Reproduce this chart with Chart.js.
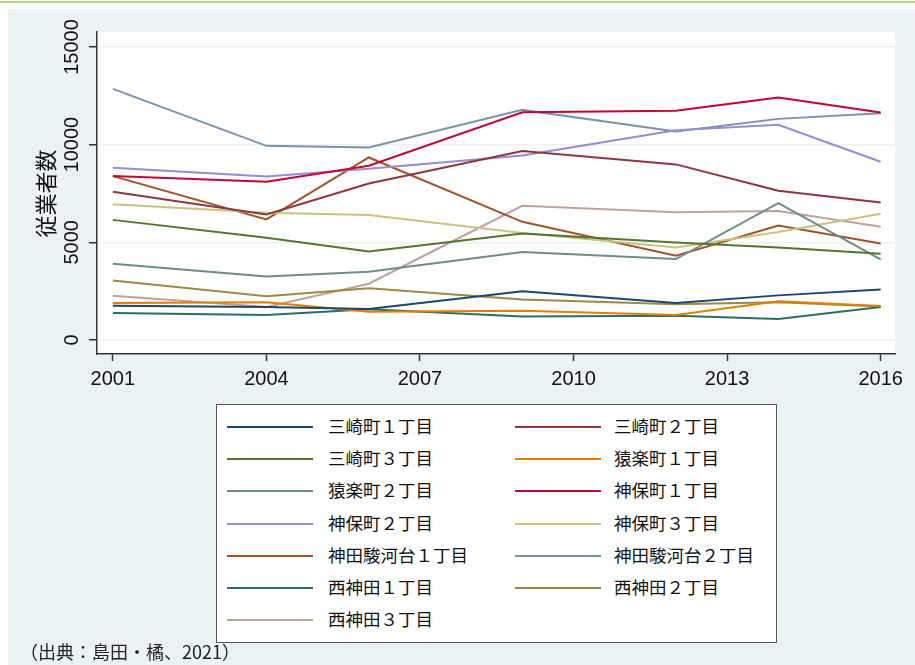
<!DOCTYPE html>
<html lang="ja">
<head>
<meta charset="utf-8">
<script src="https://cdn.jsdelivr.net/npm/chart.js@4"></script>
<style>
  html, body { margin: 0; padding: 0; background: #fff; }
  #topline { position: absolute; left: 0; top: 1px; width: 915px; height: 2px; background: #b2da80; }
  #panel { position: absolute; left: 8px; top: 9px; width: 907px; height: 656px; background: #eaf2f3; }
  #wrap { position: absolute; left: 0; top: 0; width: 915px; height: 665px; }
  #legend {
    position: absolute; left: 216px; top: 404px; width: 559px; height: 232px;
    background: #fff; border: 1px solid #555; padding-top: 5px; box-sizing: content-box;
    font-family: "Noto Sans CJK JP", sans-serif; font-size: 17.5px; color: #111;
  }
  .item { position: absolute; height: 32px; line-height: 32px; white-space: nowrap; }
  .item .swatch { position: absolute; top: 16px; width: 86px; height: 2px; }
  .item .lbl { position: absolute; top: 0; }
  #source {
    position: absolute; left: 20px; top: 638px;
    font-family: "Noto Sans CJK JP", sans-serif; font-size: 18px; color: #222;
  }
</style>
</head>
<body>
<div id="topline"></div>
<div id="panel"></div>
<div id="wrap"><canvas id="myChart" width="915" height="665"></canvas></div>
<div id="legend"></div>
<div id="source">（出典：島田・橘、2021）</div>
<script>
// survey years
const years = [2001, 2004, 2006, 2009, 2012, 2014, 2016];

// employees per district
const misaki1 = [1750, 1690, 1585, 2490, 1890, 2285, 2590];
const misaki2 = [7590, 6430, 8010, 9680, 8990, 7640, 7040];
const misaki3 = [6150, 5230, 4535, 5455, 4995, 4740, 4415];
const sarugaku1 = [1890, 1930, 1450, 1500, 1280, 1980, 1740];
const sarugaku2 = [3905, 3255, 3495, 4500, 4145, 7010, 4125];
const jimbo1 = [8390, 8100, 8920, 11660, 11730, 12410, 11645];
const jimbo2 = [8815, 8370, 8765, 9445, 10740, 11015, 9125];
const jimbo3 = [6955, 6510, 6395, 5475, 4740, 5525, 6460];
const surugadai1 = [8390, 6170, 9345, 6050, 4315, 5865, 4945];
const surugadai2 = [12855, 9940, 9855, 11780, 10675, 11320, 11610];
const nishi1 = [1380, 1280, 1570, 1210, 1240, 1075, 1690];
const nishi2 = [3050, 2235, 2645, 2080, 1825, 1930, 1720];
const nishi3 = [2270, 1690, 2880, 6870, 6545, 6600, 5795];

const seriesNames = ['三崎町１丁目', '三崎町２丁目', '三崎町３丁目', '猿楽町１丁目', '猿楽町２丁目',
  '神保町１丁目', '神保町２丁目', '神保町３丁目', '神田駿河台１丁目', '神田駿河台２丁目',
  '西神田１丁目', '西神田２丁目', '西神田３丁目'];
const seriesValues = [misaki1, misaki2, misaki3, sarugaku1, sarugaku2, jimbo1, jimbo2, jimbo3,
  surugadai1, surugadai2, nishi1, nishi2, nishi3];

const xTicks = [2001, 2004, 2007, 2010, 2013, 2016];
const yTicks = [0, 5000, 10000, 15000];
const yTitle = '従業者数';

// Stata s2color palette
const colors = ['#1a476f', '#90353b', '#55752f', '#e37e00', '#6e8e84', '#c10534', '#938dd2',
  '#cac27e', '#a0522d', '#7b92a8', '#2d6d66', '#9c8847', '#bfa19c'];

const datasets = seriesNames.map((name, i) => ({
  label: name,
  data: years.map((y, j) => ({ x: y, y: seriesValues[i][j] })),
  borderColor: colors[i],
  backgroundColor: colors[i],
  borderWidth: 2,
  pointRadius: 0,
  fill: false,
  tension: 0,
}));

// white plot region, rotated y labels and axis title
const plotDecor = {
  id: 'plotDecor',
  beforeDraw(chart) {
    const { ctx, chartArea: a } = chart;
    ctx.save();
    ctx.fillStyle = '#ffffff';
    ctx.fillRect(a.left, a.top, a.right - a.left, a.bottom - a.top);
    ctx.restore();
  },
  afterDraw(chart) {
    const { ctx } = chart;
    const yScale = chart.scales.y;
    ctx.save();
    ctx.fillStyle = '#111';
    ctx.textAlign = 'center';
    ctx.textBaseline = 'middle';
    ctx.font = '20px "Liberation Sans", Arial, sans-serif';
    yTicks.forEach(v => {
      const py = yScale.getPixelForValue(v);
      ctx.save();
      ctx.translate(72, py);
      ctx.rotate(-Math.PI / 2);
      ctx.fillText(String(v), 0, 0);
      ctx.restore();
    });
    ctx.font = '22px "Noto Sans CJK JP", sans-serif';
    ctx.translate(46, (yScale.getPixelForValue(0) + yScale.getPixelForValue(15000)) / 2);
    ctx.rotate(-Math.PI / 2);
    ctx.fillText(yTitle, 0, 0);
    ctx.restore();
  }
};

const ctx = document.getElementById('myChart').getContext('2d');
const chart = new Chart(ctx, {
  type: 'line',
  data: { datasets: datasets },
  options: {
    responsive: false,
    animation: false,
    layout: { padding: { top: 32, right: 20, left: 0, bottom: 0 } },
    plugins: { legend: { display: false }, tooltip: { enabled: false } },
    scales: {
      x: {
        type: 'linear',
        min: 2000.69,
        max: 2016.28,
        afterBuildTicks: scale => { scale.ticks = xTicks.map(v => ({ value: v })); },
        afterFit: scale => { scale.height = 665 - 354; },
        grid: { drawOnChartArea: false, drawTicks: true, tickLength: 7, tickColor: '#333', tickWidth: 1.5 },
        border: { display: true, color: '#333', width: 1.5 },
        ticks: {
          color: '#111',
          font: { family: '"Liberation Sans", Arial, sans-serif', size: 20 },
          padding: 6,
          maxRotation: 0,
          callback: v => String(v),
        },
      },
      y: {
        type: 'linear',
        min: -716,
        max: 15767,
        afterBuildTicks: scale => { scale.ticks = yTicks.map(v => ({ value: v })); },
        afterFit: scale => { scale.width = 97; },
        grid: { color: '#eaf2f3', lineWidth: 1.5, drawTicks: true, tickLength: 8, tickColor: '#333', tickWidth: 1.5 },
        border: { display: true, color: '#333', width: 1.5 },
        ticks: { display: false },
      },
    },
  },
  plugins: [plotDecor],
});

// two-column legend like the original figure
const legendBox = document.getElementById('legend');
seriesNames.forEach((name, i) => {
  const col = i % 2;
  const row = Math.floor(i / 2);
  const item = document.createElement('div');
  item.className = 'item';
  item.style.top = (5 + row * 32.2) + 'px';
  item.style.left = (col === 0 ? 10 : 298) + 'px';
  const sw = document.createElement('span');
  sw.className = 'swatch';
  sw.style.left = '0px';
  sw.style.background = colors[i];
  const lbl = document.createElement('span');
  lbl.className = 'lbl';
  lbl.style.left = (col === 0 ? 101 : 99) + 'px';
  lbl.textContent = name;
  item.appendChild(sw);
  item.appendChild(lbl);
  legendBox.appendChild(item);
});
</script>
</body>
</html>
